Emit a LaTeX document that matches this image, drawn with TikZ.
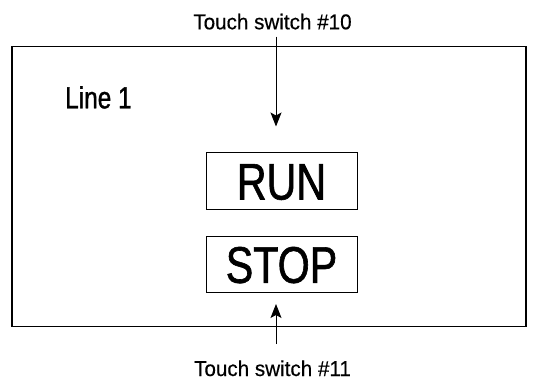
\documentclass[tikz,border=0pt]{standalone}
\usepackage{fontspec}
\setmainfont{Liberation Sans}
\newfontfamily\condfont[FakeStretch=0.8, FakeBold=1.2]{Liberation Sans}
\newfontfamily\labfont[FakeStretch=0.96, FakeBold=0.4]{Liberation Sans}
\usetikzlibrary{arrows.meta}
\begin{document}
\begin{tikzpicture}[x=1pt, y=-1pt,
    panel/.style={rectangle, draw=black, line width=1.3pt,
      minimum width=514pt, minimum height=280pt},
    lampbox/.style={rectangle, draw=black, line width=0.9pt,
      minimum width=151pt, minimum height=56.5pt, inner sep=0pt,
      text height=37pt, text depth=0pt,
      font=\condfont\fontsize{51.5}{52}\selectfont},
    caption/.style={font=\labfont\fontsize{21.5}{22}\selectfont,
      inner sep=0pt, anchor=base},
    line/.style={-{Stealth[length=14pt,width=11pt,inset=3pt]}, line width=0.9pt}
  ]
    \useasboundingbox (0,0) rectangle (541,380);
    % Panel
    \node[panel] (frame) at (269,186.7) {};
    \node[anchor=base west, inner sep=0pt,
      font=\condfont\fontsize{30.5}{31}\selectfont] (line1) at (65,108.3) {Line 1};

    % Lampen
    \node[lampbox] (run) at (281.5,181) {RUN};
    \node[lampbox] (stop) at (281.5,264.3) {STOP};

    % Schalter
    \node[caption] (sw10) at (272.5,29.3) {Touch switch \#10};
    \node[caption] (sw11) at (272.5,376) {Touch switch \#11};
    \coordinate (in10) at (276,126.5);
    \coordinate (in11) at (276,304);
    \draw[line] (sw10.south -| in10) ++(0,7) -- (in10);
    \draw[line] (sw11.north -| in11) ++(0,-16) -- (in11);
  \end{tikzpicture}
\end{document}
